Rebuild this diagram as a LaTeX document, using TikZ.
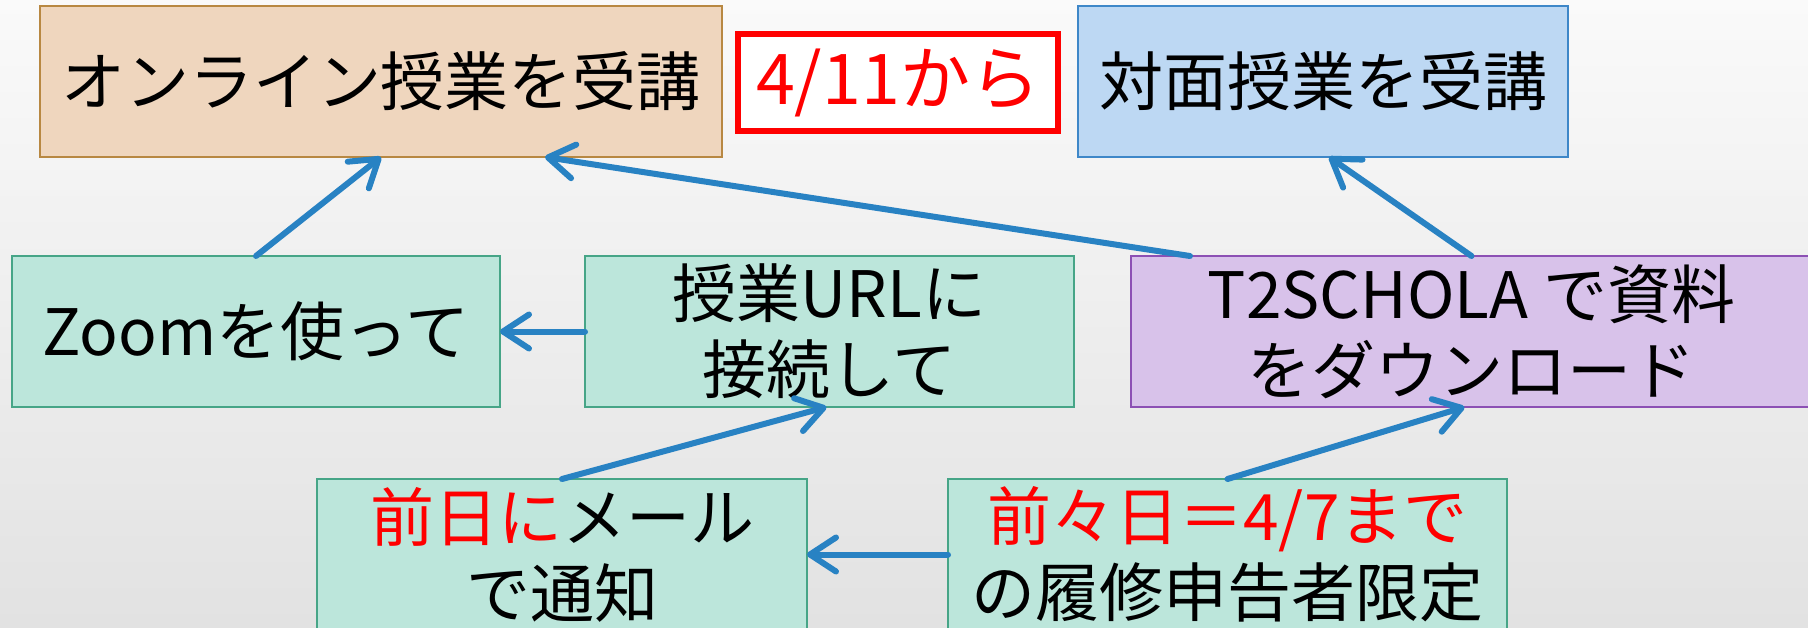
\documentclass[tikz,border=0pt]{standalone}
\usepackage{fontspec}
\setmainfont{Noto Sans CJK JP}
\usetikzlibrary{arrows.meta}
\definecolor{bgtop}{RGB}{250,250,250}
\definecolor{bgmid}{RGB}{243,243,243}
\definecolor{bgbot}{RGB}{226,226,226}
\definecolor{orfill}{RGB}{239,214,190}
\definecolor{ordraw}{RGB}{184,136,66}
\definecolor{blfill}{RGB}{189,216,243}
\definecolor{bldraw}{RGB}{62,135,200}
\definecolor{grfill}{RGB}{188,230,219}
\definecolor{grdraw}{RGB}{70,165,135}
\definecolor{pufill}{RGB}{216,194,234}
\definecolor{pudraw}{RGB}{140,80,180}
\definecolor{arrowblue}{RGB}{40,130,195}
\definecolor{txtred}{RGB}{255,0,0}
\tikzset{
  box/.style={rectangle, inner sep=0pt, outer sep=0pt, line width=2pt,
    align=center, font=\fontsize{64}{76}\selectfont},
  orbox/.style={box, fill=orfill, draw=ordraw},
  blbox/.style={box, fill=blfill, draw=bldraw},
  grbox/.style={box, fill=grfill, draw=grdraw},
  pubox/.style={box, fill=pufill, draw=pudraw},
  redbox/.style={box, fill=white, draw=txtred, line width=6pt, text=txtred,
    font=\fontsize{70}{80}\selectfont},
  conn/.style={draw=arrowblue, line width=6pt, line cap=round,
    -{Straight Barb[length=26pt,width=34pt,round]}},
}
\begin{document}
\begin{tikzpicture}[x=1pt,y=-1pt]
\useasboundingbox (0,0) rectangle (1808,627);
\clip (0,0) rectangle (1808,627);
\shade[top color=bgtop, middle color=bgmid, bottom color=bgbot] (0,0) rectangle (1808,627);

\node[orbox, minimum width=682pt, minimum height=151pt] (online) at (381,81.5) {オンライン授業を受講};
\node[redbox, minimum width=320pt, minimum height=97pt] (from) at (898,82.5) {4/11から};
\node[blbox, minimum width=490pt, minimum height=151pt] (face) at (1323,81.5) {対面授業を受講};

\node[grbox, minimum width=488pt, minimum height=151pt] (zoom) at (256,331.5) {Zoomを使って};
\node[grbox, minimum width=489pt, minimum height=151pt] (url) at (829.5,331.5) {授業URLに\\接続して};
\node[pubox, minimum width=681pt, minimum height=151pt] (t2) at (1471.5,331.5) {T2SCHOLA で資料\\をダウンロード};

\node[grbox, minimum width=490pt, minimum height=151pt] (mail) at (562,554.5) {\textcolor{txtred}{前日に}メール\\で通知};
\node[grbox, minimum width=559pt, minimum height=151pt] (pre) at (1227.5,554.5) {\textcolor{txtred}{前々日＝4/7まで}\\の履修申告者限定};

\draw[conn] (zoom.north) -- (online.south);
\draw[conn] ([xshift=59pt]t2.north west) -- ([xshift=164pt]online.south);
\draw[conn] (t2.north) -- ([xshift=6pt]face.south);
\draw[conn] (url.west) -- (zoom.east);
\draw[conn] (mail.north) -- ([xshift=-3pt]url.south);
\draw[conn] (pre.north) -- ([xshift=-7pt]t2.south);
\draw[conn] (pre.west) -- (mail.east);
\end{tikzpicture}
\end{document}
